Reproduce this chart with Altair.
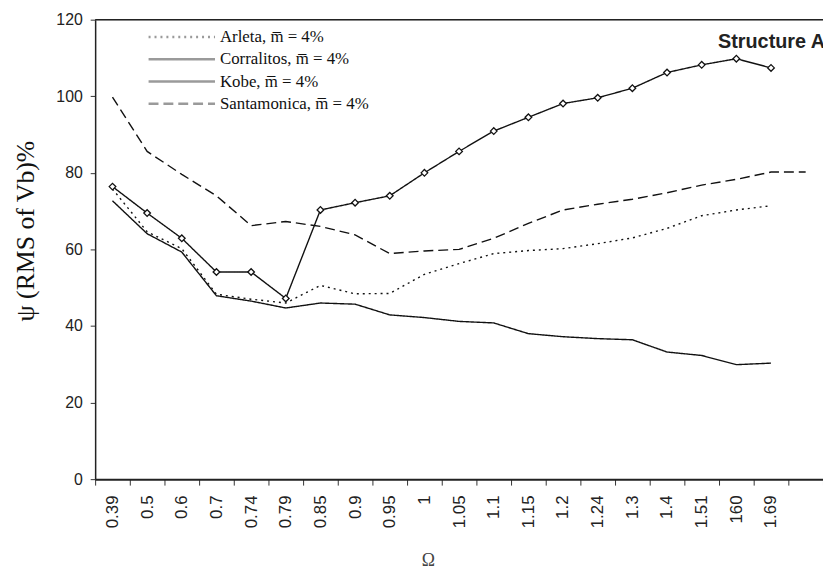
import altair as alt
import pandas as pd

# Category labels on the x axis (last category has an empty label)
labels = ["0.39", "0.5", "0.6", "0.7", "0.74", "0.79", "0.85", "0.9", "0.95", "1",
          "1.05", "1.1", "1.15", "1.2", "1.24", "1.3", "1.4", "1.51", "160", "1.69", ""]

arleta = [75.8, 64.6, 60.2, 48.3, 47.0, 46.0, 50.6, 48.4, 48.5, 53.5,
          56.3, 58.9, 59.7, 60.2, 61.5, 63.0, 65.5, 68.8, 70.3, 71.4]
corralitos = [72.7, 64.1, 59.3, 47.9, 46.5, 44.7, 46.0, 45.7, 42.9, 42.2,
              41.2, 40.8, 38.0, 37.2, 36.7, 36.4, 33.2, 32.3, 29.9, 30.3]
kobe = [76.4, 69.5, 62.9, 54.1, 54.1, 47.2, 70.3, 72.2, 74.0, 80.0,
        85.6, 90.9, 94.5, 98.1, 99.6, 102.1, 106.2, 108.2, 109.8, 107.4]
santamonica = [99.8, 85.6, 79.6, 74.0, 66.2, 67.3, 66.0, 63.8, 58.9, 59.6,
               60.0, 62.9, 66.8, 70.3, 71.8, 73.1, 74.8, 76.8, 78.3, 80.2, 80.2]

series_names = ["Arleta, m\u0305 = 4%", "Corralitos, m\u0305 = 4%",
                "Kobe, m\u0305 = 4%", "Santamonica, m\u0305 = 4%"]
dash_patterns = [[2, 4], [1, 0], [1, 0], [10, 5]]

panel_title = ["Structure A"]

rows = []
for name, vals in zip(series_names, [arleta, corralitos, kobe, santamonica]):
    for i, v in enumerate(vals):
        rows.append({"series": name, "idx": i, "value": v})
df = pd.DataFrame(rows)

label_expr = "[" + ",".join("'" + l + "'" for l in labels) + "][datum.value]"

x_enc = alt.X(
    "idx:O",
    scale=alt.Scale(type="band", domain=list(range(len(labels))), paddingInner=0, paddingOuter=0),
    axis=alt.Axis(
        title="Ω",
        labelExpr=label_expr,
        labelAngle=-90,
        labelFont="Liberation Sans",
        labelFontSize=17,
        labelColor="#222",
        labelPadding=10,
        tickBand="extent",
        tickSize=6,
        tickColor="#333",
        tickWidth=1,
        domainColor="#222",
        domainWidth=2,
        titleFont="Liberation Serif",
        titleFontSize=18,
        titleFontWeight="normal",
        titleColor="#444",
        titleX=336,
        titleY=82,
        titleAlign="center",
        titleBaseline="middle",
    ),
)

y_enc = alt.Y(
    "value:Q",
    scale=alt.Scale(domain=[0, 120], nice=False),
    axis=alt.Axis(
        title="ψ (RMS of Vb)%",
        values=[0, 20, 40, 60, 80, 100, 120],
        grid=False,
        labelFont="Liberation Sans",
        labelFontSize=16,
        labelColor="#222",
        labelPadding=8,
        tickSize=5,
        tickColor="#333",
        domainColor="#222",
        domainWidth=1.5,
        titleFont="Liberation Serif",
        titleFontSize=26,
        titleFontWeight="normal",
        titleColor="#111",
        titleX=-70,
        titleY=213,
        titleAlign="center",
        titleBaseline="middle",
    ),
)

base = alt.Chart(df)

top_border = alt.Chart(pd.DataFrame({"v": [120]})).mark_rule(color="#222", strokeWidth=1.5).encode(
    y=alt.Y("v:Q")
)

lines = base.mark_line(color="#111", strokeWidth=1.4).encode(
    x=x_enc,
    y=y_enc,
    strokeDash=alt.StrokeDash(
        "series:N",
        scale=alt.Scale(domain=series_names, range=dash_patterns),
        legend=alt.Legend(
            title=None,
            orient="none",
            legendX=79,
            legendY=9,
            symbolType="M-5,0H5",
            symbolSize=180,
            symbolStrokeColor="#9a9a9a",
            symbolStrokeWidth=2.5,
            labelFont="Liberation Serif",
            labelFontSize=17,
            labelColor="#111",
            labelOffset=30,
            rowPadding=4.5,
            padding=0,
        ),
    ),
)

points = base.transform_filter(alt.datum.series == series_names[2]).mark_point(
    shape="diamond", filled=True, fill="white", stroke="#111", strokeWidth=1.3, size=45, opacity=1
).encode(x=x_enc, y=y_enc)

title_text = alt.Chart(pd.DataFrame({"t": panel_title})).mark_text(
    font="Liberation Sans", fontSize=20, fontWeight="bold",
    align="left", baseline="alphabetic", color="#222"
).encode(text="t:N", x=alt.value(629), y=alt.value(29))

chart = alt.layer(top_border, lines, points, title_text).properties(
    width=735,
    height=464,
    autosize=alt.AutoSizeParams(type="none"),
    padding={"left": 88, "top": 9, "right": 0, "bottom": 94},
).configure_view(stroke=None).configure(background="white")

chart.save("out.html", embed_options={"renderer": "svg", "actions": False})
